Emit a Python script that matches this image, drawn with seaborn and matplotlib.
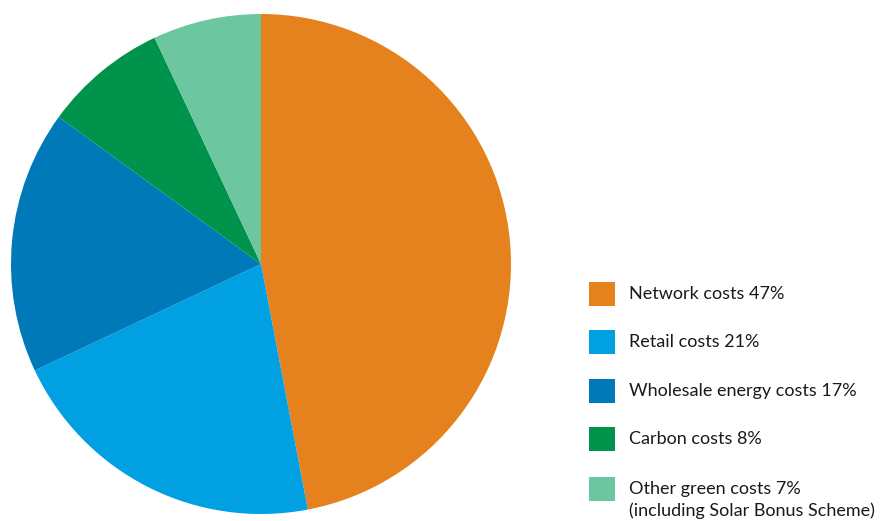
import matplotlib
matplotlib.use("Agg")
import matplotlib.pyplot as plt
from matplotlib.patches import Rectangle
import seaborn as sns

categories = ["Network costs", "Retail costs", "Wholesale energy costs", "Carbon costs", "Other green costs"]
values = [47, 21, 17, 8, 7]
labels = ["Network costs 47%", "Retail costs 21%", "Wholesale energy costs 17%",
          "Carbon costs 8%", "Other green costs 7%\n(including Solar Bonus Scheme)"]
colors = ["#E5821E", "#00A0E2", "#0079B8", "#00934B", "#6CC7A1"]

sns.set_theme(style="white")
plt.rcParams['font.family'] = ['Lato', 'DejaVu Sans']

W, H = 881, 521
fig = plt.figure(figsize=(W / 100, H / 100), dpi=100)
ax = fig.add_axes([0, 0, 1, 1])

ax.pie(values, colors=colors, startangle=90, counterclock=False,
       center=(261, H - 264), radius=250, frame=True,
       wedgeprops=dict(linewidth=0))
ax.set_xlim(0, W)
ax.set_ylim(0, H)
ax.set_aspect("equal")
ax.axis("off")

fs = 13
row_y = [294, 342, 391, 439, 489]
for i, (lab, col) in enumerate(zip(labels, colors)):
    yc = H - row_y[i]
    ax.add_patch(Rectangle((589, yc - 12), 26, 24, facecolor=col, edgecolor="none"))
    if "\n" in lab:
        l1, l2 = lab.split("\n")
        ax.text(629, yc, l1, va="center", ha="left", fontsize=fs, color="#1a1a1a")
        ax.text(629, yc - 22, l2, va="center", ha="left", fontsize=fs, color="#1a1a1a")
    else:
        ax.text(629, yc, lab, va="center", ha="left", fontsize=fs, color="#1a1a1a")

fig.savefig("out.png", dpi=100)
